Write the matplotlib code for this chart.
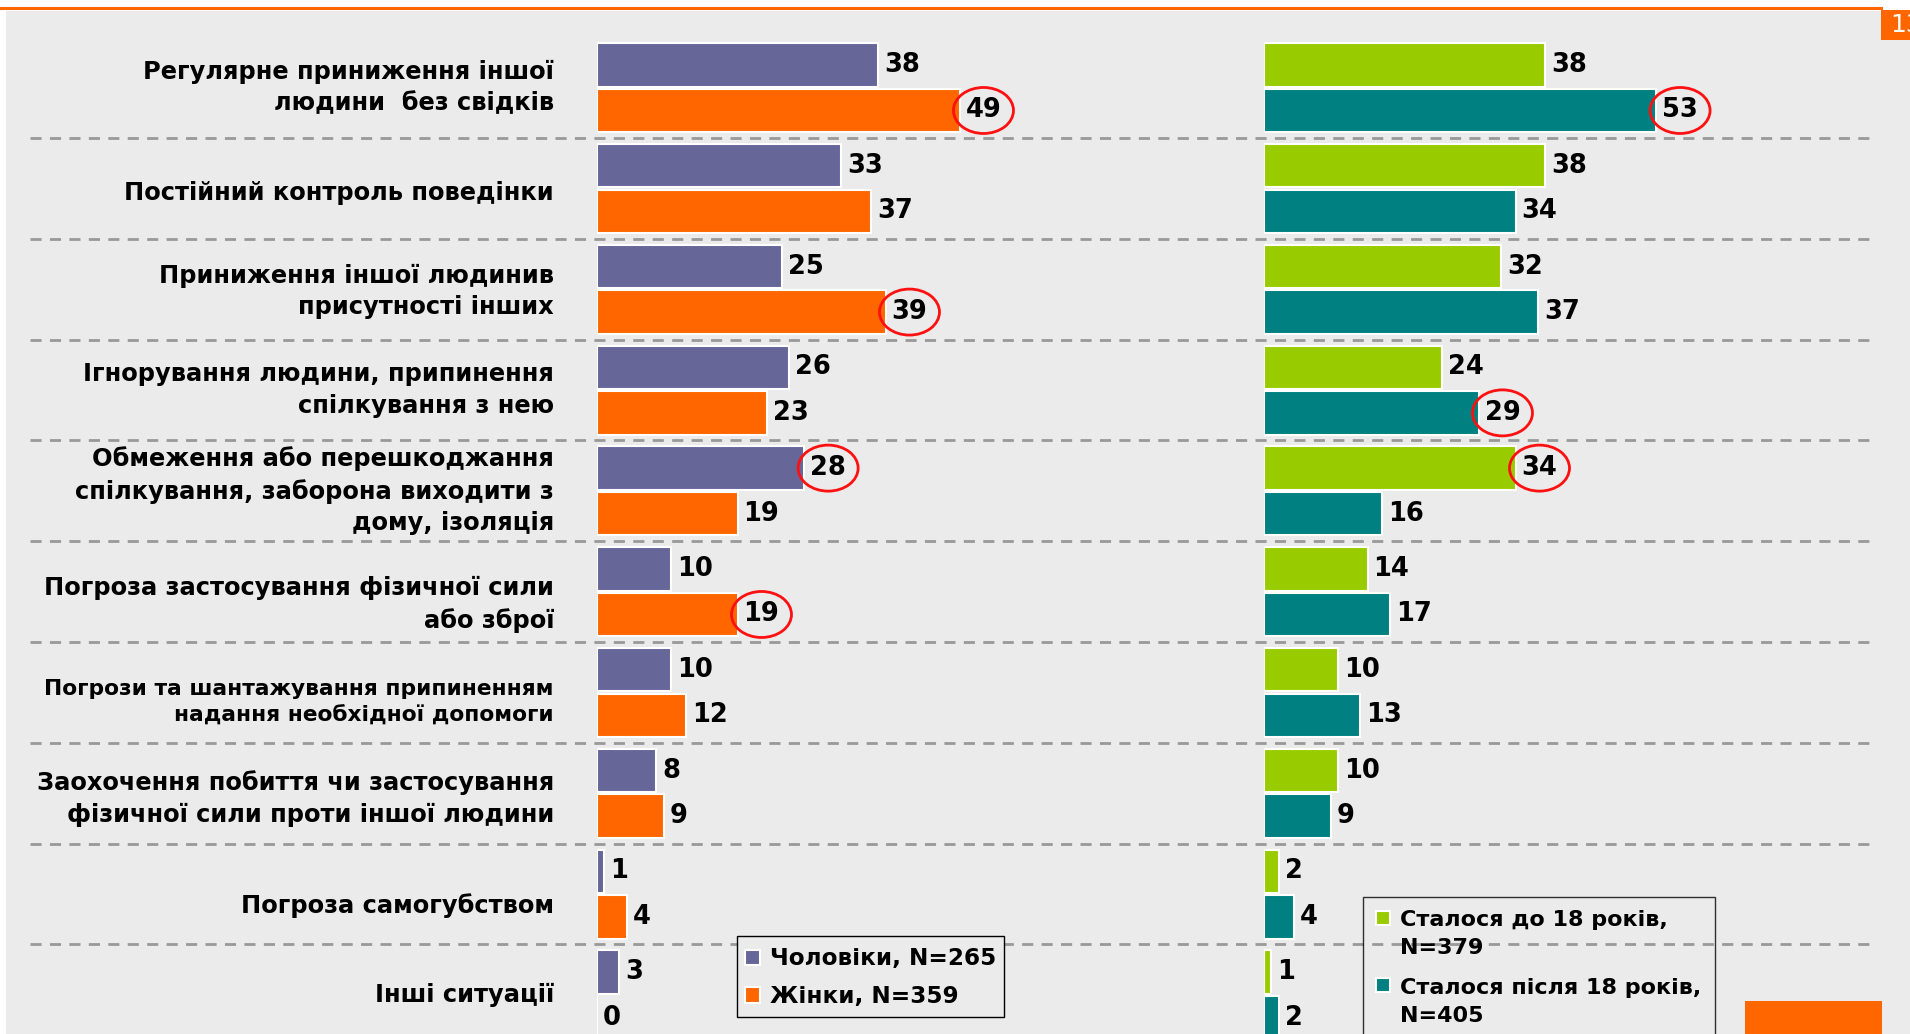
import matplotlib
matplotlib.use("Agg")
import matplotlib.pyplot as plt
from matplotlib.patches import Rectangle, Ellipse
from matplotlib.lines import Line2D
from matplotlib.container import BarContainer
from matplotlib.transforms import blended_transform_factory
from matplotlib.legend_handler import HandlerPatch, update_from_first_child

# data
categories = [
    "Регулярне приниження іншої\nлюдини  без свідків",
    "Постійний контроль поведінки",
    "Приниження іншої людинив\nприсутності інших",
    "Ігнорування людини, припинення\nспілкування з нею",
    "Обмеження або перешкоджання\nспілкування, заборона виходити з\nдому, ізоляція",
    "Погроза застосування фізичної сили\nабо зброї",
    "Погрози та шантажування припиненням\nнадання необхідної допомоги",
    "Заохочення побиття чи застосування\nфізичної сили проти іншої людини",
    "Погроза самогубством",
    "Інші ситуації",
]
men = [38, 33, 25, 26, 28, 10, 10, 8, 1, 3]
women = [49, 37, 39, 23, 19, 19, 12, 9, 4, 0]
before18 = [38, 38, 32, 24, 34, 14, 10, 10, 2, 1]
after18 = [53, 34, 37, 29, 16, 17, 13, 9, 4, 2]

# which values are circled in red
men_circled = [4]
women_circled = [0, 2, 5]
before_circled = [4]
after_circled = [0, 3]

legend_left = ["Чоловіки, N=265", "Жінки, N=359"]
legend_right = ["Сталося до 18 років,\nN=379", "Сталося після 18 років,\nN=405"]
page_number = "13"

plt.rcParams['font.family'] = ['DejaVu Sans']

W, H = 1910, 1034
BG = '#eaebea'
PURPLE, ORANGE, GREEN, TEAL = '#666699', '#ff6600', '#99cc00', '#008080'

fig = plt.figure(figsize=(W / 100, H / 100), dpi=100)
fig.patch.set_facecolor('white')
fig.add_artist(Rectangle((6 / W, 0), 1, 1 - 11 / H, transform=fig.transFigure,
                         facecolor=BG, edgecolor='none', zorder=-5))

# top orange line + page box
fig.add_artist(Line2D([0, 1881 / W], [1 - 8 / H] * 2, color=ORANGE, lw=2.2,
                      transform=fig.transFigure))
fig.add_artist(Rectangle((1881 / W, 1 - 40 / H), 40 / W, 30 / H, transform=fig.transFigure,
                         facecolor=ORANGE, edgecolor='none'))
fig.text(1890 / W, 1 - 25 / H, page_number, color='white', fontsize=18,
         va='center', ha='left')
# bottom-right orange block
fig.add_artist(Rectangle((1745 / W, 0), 137 / W, 33 / H, transform=fig.transFigure,
                         facecolor=ORANGE, edgecolor='none'))

x_left0, x_right0 = 597, 1264
px_per_unit = 7.4
row0, row_step = 87.7, 100.8
ytop = -row0 / row_step
ybot = (H - row0) / row_step

axL = fig.add_axes([x_left0 / W, 0, (x_right0 - x_left0) / W, 1])
axR = fig.add_axes([x_right0 / W, 0, (W - x_right0) / W, 1])
axL.set_xlim(0, (x_right0 - x_left0) / px_per_unit)
axR.set_xlim(0, (W - x_right0) / px_per_unit)

rows = list(range(len(categories)))
off, bh = 0.226, 0.43

for ax in (axL, axR):
    ax.set_ylim(ybot, ytop)
    ax.set_facecolor('none')
    for s in ax.spines.values():
        s.set_visible(False)
    ax.set_xticks([])
    ax.set_yticks([])

# category labels (some sit a little lower in the original layout)
label_drop = [0, 5, 2, 0, 0, 13, 10, 5, 11, 0]
label_size = [17.4] * len(categories)
label_size[6] = 15.7
for r, txt in enumerate(categories):
    axL.annotate(txt, xy=(0, r), xycoords=('axes fraction', 'data'),
                 xytext=(-43, -label_drop[r]), textcoords='offset pixels',
                 ha='right', va='center', fontsize=label_size[r], fontweight='bold',
                 linespacing=1.4, annotation_clip=False)

b_men = axL.barh([r - off for r in rows], men, height=bh, color=PURPLE,
                 edgecolor='white', linewidth=1.5, zorder=3)
b_women = axL.barh([r + off for r in rows], women, height=bh, color=ORANGE,
                   edgecolor='white', linewidth=1.5, zorder=3)
b_before = axR.barh([r - off for r in rows], before18, height=bh, color=GREEN,
                    edgecolor='white', linewidth=1.5, zorder=3)
b_after = axR.barh([r + off for r in rows], after18, height=bh, color=TEAL,
                   edgecolor='white', linewidth=1.5, zorder=3)

labels = []
for ax, vals, dy, circ in [(axL, men, -off, men_circled), (axL, women, off, women_circled),
                           (axR, before18, -off, before_circled), (axR, after18, off, after_circled)]:
    for i, v in enumerate(vals):
        t = ax.annotate(str(v), xy=(v, i + dy), xytext=(6, 0), textcoords='offset pixels',
                        va='center', ha='left', fontsize=18.5, fontweight='bold', zorder=4)
        if i in circ:
            labels.append((ax, t))

# dashed separators across the whole width
tr = blended_transform_factory(fig.transFigure, axL.transData)
for r in rows[:-1]:
    axL.plot([30 / W, 1870 / W], [r + 0.5, r + 0.5], transform=tr, color='#999999',
             lw=2, dashes=(4, 3), clip_on=False, zorder=2)

# red circles around highlighted numbers
fig.canvas.draw()
for ax, t in labels:
    bb = t.get_window_extent()
    cx, cy = ax.transData.inverted().transform(((bb.x0 + bb.x1) / 2, (bb.y0 + bb.y1) / 2))
    ax.add_patch(Ellipse((cx, cy), 60 / px_per_unit, 46 / row_step, facecolor='none',
                         edgecolor='#ff1010', lw=2, zorder=5, clip_on=False))


def base_square(legend, orig_handle, xdescent, ydescent, width, height, fontsize):
    s = 0.68 * fontsize
    return Rectangle((0, 0), s, s)


def top_square(legend, orig_handle, xdescent, ydescent, width, height, fontsize):
    s = 0.62 * fontsize
    return Rectangle((0, 0.8 * fontsize), s, s)


leg1 = axL.legend([b_men, b_women], legend_left, loc='upper left',
                  bbox_to_anchor=(737 / W, 1 - 936 / H), bbox_transform=fig.transFigure,
                  borderaxespad=0, fancybox=False, prop={'size': 16.7, 'weight': 'bold'},
                  handlelength=0.68, handleheight=1.5, handletextpad=0.4,
                  labelspacing=0.4, borderpad=0.33,
                  handler_map={BarContainer: HandlerPatch(patch_func=base_square,
                                                          update_func=update_from_first_child)})
leg1.get_frame().set_facecolor(BG)
leg1.get_frame().set_alpha(1)
leg1.get_frame().set_edgecolor('black')
leg1.get_frame().set_linewidth(1)

leg2 = axR.legend([b_before, b_after], legend_right, loc='upper left',
                  bbox_to_anchor=(1363 / W, 1 - 897 / H), bbox_transform=fig.transFigure,
                  borderaxespad=0, fancybox=False, prop={'size': 16, 'weight': 'bold'},
                  handlelength=0.62, handletextpad=0.45, labelspacing=0.88, borderpad=0.6,
                  handler_map={BarContainer: HandlerPatch(patch_func=top_square,
                                                          update_func=update_from_first_child)})
for txt in leg2.get_texts():
    txt.set_linespacing(1.5)
leg2.get_frame().set_facecolor('none')
leg2.get_frame().set_edgecolor('black')
leg2.get_frame().set_linewidth(1)

fig.savefig('out.png', dpi=100, facecolor=fig.get_facecolor())
